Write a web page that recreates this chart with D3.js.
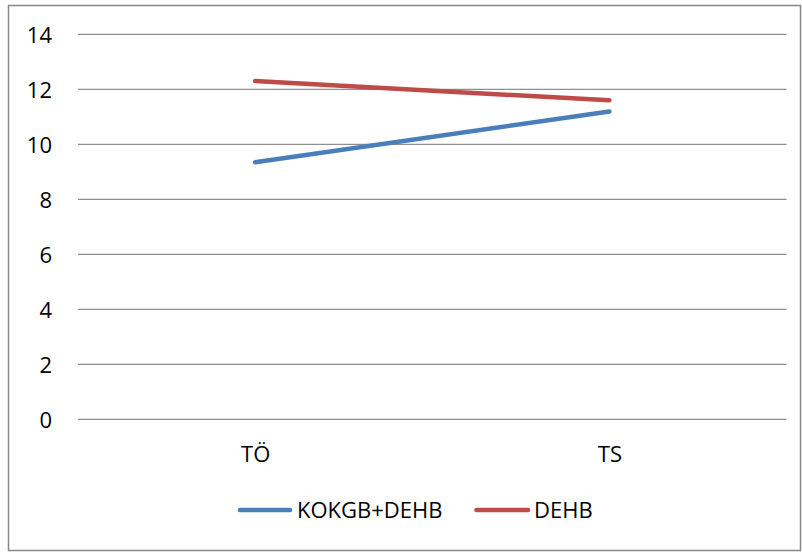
<!DOCTYPE html>
<html>
<head>
<meta charset="utf-8">
<script src="https://cdn.jsdelivr.net/npm/d3@7"></script>
<style>
  html, body { margin: 0; padding: 0; background: #fff; }
  svg text { font-family: "Open Sans", "Liberation Sans", sans-serif; fill: #000; }
</style>
</head>
<body>
<svg id="chart" width="802" height="552"></svg>
<script>
// Measurement points and series
const categories = ["TÖ", "TS"];
const seriesNames = ["KOKGB+DEHB", "DEHB"];
const kokgbDehb = [9.35, 11.19];
const dehb = [12.3, 11.6];
const yTicks = [0, 2, 4, 6, 8, 10, 12, 14];
const colors = ["#4a7ebb", "#be4b48"];

const series = [
  { name: seriesNames[0], values: kokgbDehb, color: colors[0] },
  { name: seriesNames[1], values: dehb, color: colors[1] }
];

const svg = d3.select("#chart");

// Outer chart frame
svg.append("rect")
  .attr("x", 8.5).attr("y", 5.5)
  .attr("width", 792).attr("height", 545)
  .attr("fill", "#fff")
  .attr("stroke", "#878787")
  .attr("stroke-width", 1.5);

const plot = { left: 78, right: 786.5, top: 34.3, bottom: 419.3 };

const x = d3.scalePoint()
  .domain(categories)
  .range([plot.left, plot.right])
  .padding(0.5);

const y = d3.scaleLinear()
  .domain([0, 14])
  .range([plot.bottom, plot.top]);

// Horizontal gridlines
svg.append("g")
  .selectAll("line")
  .data(yTicks)
  .join("line")
  .attr("x1", plot.left)
  .attr("x2", plot.right)
  .attr("y1", d => y(d))
  .attr("y2", d => y(d))
  .attr("stroke", "#8e8e8e")
  .attr("stroke-width", 1.3);

// Y axis labels
const yAxis = d3.axisLeft(y).tickValues(yTicks).tickSize(0).tickPadding(0);
const yg = svg.append("g")
  .attr("transform", `translate(52,0)`)
  .call(yAxis);
yg.select(".domain").remove();
yg.selectAll("text")
  .attr("font-size", 22)
  .attr("font-family", "'Open Sans', sans-serif")
  .attr("fill", "#000")
  .attr("dy", "0.36em");

// X axis labels
const xAxis = d3.axisBottom(x).tickSize(0).tickPadding(0);
const xg = svg.append("g")
  .attr("transform", `translate(0,462)`)
  .call(xAxis);
xg.select(".domain").remove();
xg.selectAll("text")
  .attr("font-size", 22)
  .attr("font-family", "'Open Sans', sans-serif")
  .attr("fill", "#000")
  .attr("y", 0)
  .attr("dy", 0);

// Series lines
const line = d3.line()
  .x((d, i) => x(categories[i]))
  .y(d => y(d));

svg.append("g")
  .selectAll("path")
  .data(series)
  .join("path")
  .attr("d", d => line(d.values))
  .attr("fill", "none")
  .attr("stroke", d => d.color)
  .attr("stroke-width", 4.5)
  .attr("stroke-linecap", "round")
  .attr("stroke-linejoin", "round");

// Legend
const legendItems = [
  { x1: 240, x2: 290, tx: 297 },
  { x1: 476.5, x2: 528, tx: 534 }
];
const lg = svg.append("g");
series.forEach((s, i) => {
  const it = legendItems[i];
  lg.append("line")
    .attr("x1", it.x1).attr("x2", it.x2)
    .attr("y1", 510).attr("y2", 510)
    .attr("stroke", s.color)
    .attr("stroke-width", 4.5)
    .attr("stroke-linecap", "round");
  lg.append("text")
    .attr("x", it.tx)
    .attr("y", 518.3)
    .attr("font-size", 22)
    .text(s.name);
});
</script>
</body>
</html>
